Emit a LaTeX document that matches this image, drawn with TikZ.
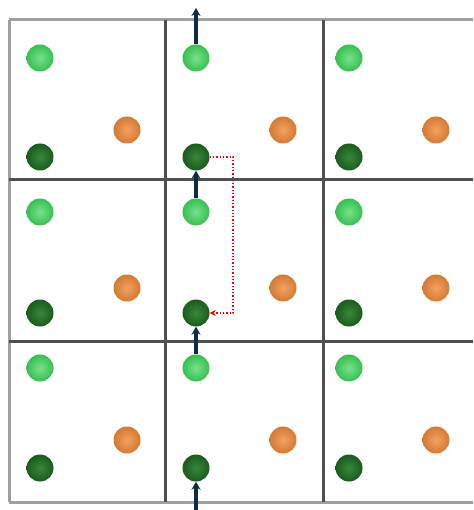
\documentclass[tikz,border=0pt]{standalone}
\usetikzlibrary{arrows.meta}
\definecolor{lg}{HTML}{3ED45A}
\definecolor{dg}{HTML}{237A26}
\definecolor{og}{HTML}{F08A3A}
\definecolor{navy}{HTML}{0D2D45}
\definecolor{outerln}{HTML}{A0A0A0}
\definecolor{innerln}{HTML}{505050}
\tikzset{
  ball/.style={circle, minimum size=27pt, inner sep=0pt, shading=radial},
  lball/.style={ball, inner color=lg!70!white, outer color=lg!90!black},
  dball/.style={ball, inner color=dg!90!white, outer color=dg!75!black},
  oball/.style={ball, inner color=og!80!white, outer color=og!88!black},
  outerline/.style={draw=outerln, line width=3pt},
  innerline/.style={draw=innerln, line width=3pt},
  move/.style={navy, line width=3.4pt, -{Stealth[length=8pt,width=9pt]}},
  path/.style={red, dotted, line width=1.3pt, -{Stealth[length=6pt,width=6pt]}}
}
\begin{document}
\begin{tikzpicture}[x=1pt,y=-1pt]
\useasboundingbox (0,0) rectangle (473,510);
\clip (0,0) rectangle (473,510);
\fill[white] (0,0) rectangle (473,510);
% grid
\draw[outerline] (9,20) -- (480,20);
\draw[outerline] (9,502) -- (480,502);
\draw[outerline] (9,20) -- (9,502);
\draw[innerline] (9,180) -- (480,180);
\draw[innerline] (9,341) -- (480,341);
\draw[innerline] (165,20) -- (165,502);
\draw[innerline] (323,20) -- (323,502);
% balls
\foreach \c/\x in {1/40,2/196,3/349}{
  \foreach \r/\yl/\yd/\yo in {1/58/157/130,2/212/313/288,3/368/468/440}{
    \node[lball] (l\r\c) at (\x,\yl) {};
    \node[dball] (d\r\c) at (\x,\yd) {};
    \node[oball] (o\r\c) at (\x+87,\yo) {};
  }
}
% arrows
\coordinate (top) at (196,8);
\coordinate (bot) at (196,512);
\draw[move] (l12.north) -- (top);
\draw[move] (l22.north) -- (d12.south);
\draw[move] (l32.north) -- (d22.south);
\draw[move] (bot) -- (d32.south);
\draw[path] (d12.east) -- (233,157) -- (233,313) -- (d22.east);
\end{tikzpicture}
\end{document}
